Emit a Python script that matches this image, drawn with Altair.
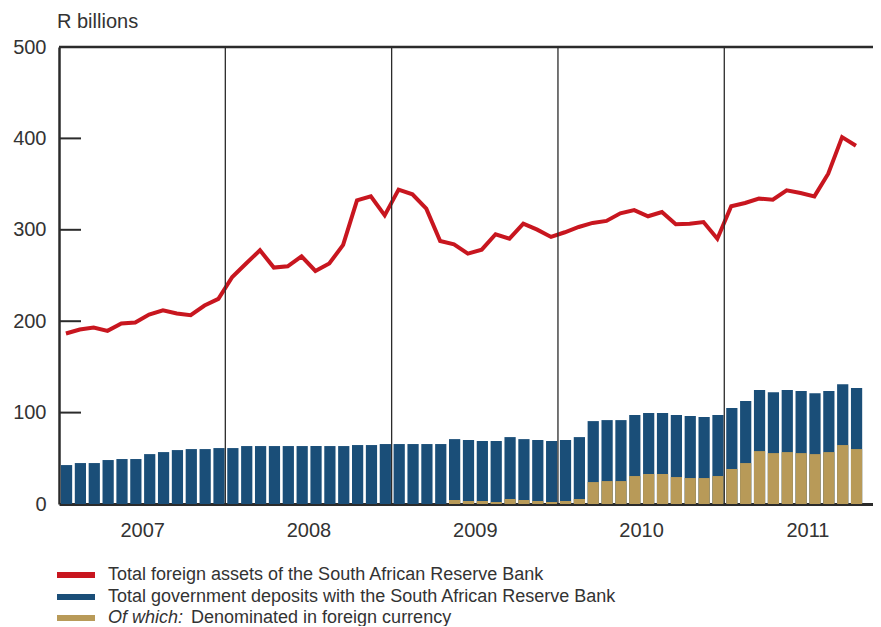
import altair as alt
import pandas as pd

# ---------------- data ----------------
years = ["2007", "2008", "2009", "2010", "2011"]

foreign_assets = [
    186.5, 190.9, 193.1, 189.4, 197.5, 198.6, 207.3, 212.0, 208.4, 206.6, 217.1, 224.4,
    248.4, 263.1, 277.6, 258.7, 260.1, 271.0, 255.0, 263.1, 283.5, 332.2, 336.6, 315.8,
    343.9, 338.8, 323.1, 287.8, 284.2, 274.0, 278.3, 295.1, 290.3, 306.8, 300.2, 292.2,
    297.3, 303.1, 307.5, 309.7, 318.0, 321.6, 314.8, 319.5, 306.0, 306.7, 308.5, 290.3,
    325.7, 329.3, 334.1, 333.0, 343.2, 340.2, 336.6, 361.4, 401.4, 392.0,
]
gov_deposits = [
    42.6, 44.8, 44.8, 48.1, 49.2, 49.2, 54.6, 56.8, 59.0, 60.1, 60.1, 61.2,
    61.2, 63.4, 63.4, 63.4, 63.4, 63.4, 63.4, 63.4, 63.4, 64.5, 64.5, 65.6,
    65.6, 65.6, 65.6, 65.6, 71.0, 70.0, 68.9, 68.9, 73.2, 71.0, 70.0, 68.9,
    70.0, 73.2, 90.7, 91.8, 91.8, 97.3, 99.5, 99.5, 97.3, 96.2, 95.1, 97.3,
    104.9, 112.6, 124.6, 122.4, 124.6, 123.5, 121.3, 123.5, 131.1, 126.8,
]
foreign_currency = [
    0, 0, 0, 0, 0, 0, 0, 0, 0, 0, 0, 0,
    0, 0, 0, 0, 0, 0, 0, 0, 0, 0, 0, 0,
    0, 0, 0, 0, 4.4, 3.3, 3.3, 2.2, 5.5, 4.4, 3.3, 2.2,
    3.3, 5.5, 24.0, 25.1, 25.1, 30.6, 32.8, 32.8, 29.5, 28.4, 28.4, 30.6,
    38.3, 44.8, 57.9, 55.7, 56.8, 55.7, 54.6, 56.8, 64.5, 60.1,
]
y_ticks = [0, 100, 200, 300, 400, 500]
inner_ticks = [100, 200, 300, 400]
year_breaks = [12, 24, 36, 48]
year_centers = [6, 18, 30, 42, 54]

legend_labels = [
    "Total foreign assets of the South African Reserve Bank",
    "Total government deposits with the South African Reserve Bank",
    "Denominated in foreign currency",
]
legend_prefix = "Of which:"

# ---------------- style ----------------
RED = "#c8161f"
BLUE = "#1a4e78"
GOLD = "#b89a58"
DARK = "#2b2b2b"
TXT = "#333333"
FONT = "Liberation Sans"

W = 814
H = 457
MONTH_PX = 13.86
XMAX = W / MONTH_PX

n = len(foreign_assets)
df = pd.DataFrame({
    "idx": list(range(n)),
    "fa": foreign_assets,
    "gov": gov_deposits,
    "fc": foreign_currency,
})
df["x0"] = df["idx"] + 0.14
df["x1"] = df["idx"] + 0.95
df["xc"] = df["idx"] + 0.5

x_scale = alt.Scale(domain=[0, XMAX], nice=False, zero=False)
y_scale = alt.Scale(domain=[0, 500], nice=False)

x_axis = alt.Axis(
    values=year_centers,
    labelExpr="'' + (2007 + (datum.value - 6) / 12)",
    ticks=False, grid=False, title=None,
    domainColor=DARK, domainWidth=3,
    labelFont=FONT, labelFontSize=20, labelColor=TXT, labelPadding=16,
)
y_axis = alt.Axis(
    values=y_ticks, ticks=False, grid=False, title=None,
    domainColor=DARK, domainWidth=2.5,
    labelFont=FONT, labelFontSize=20, labelColor=TXT, labelPadding=13,
)

base = alt.Chart(df)

blue = base.mark_bar(color=BLUE).encode(
    x=alt.X("x0:Q", scale=x_scale, axis=x_axis),
    x2="x1:Q",
    y=alt.Y("gov:Q", scale=y_scale, axis=y_axis),
    y2=alt.datum(0),
)
gold = base.mark_bar(color=GOLD).encode(
    x=alt.X("x0:Q", scale=x_scale),
    x2="x1:Q",
    y=alt.Y("fc:Q", scale=y_scale),
    y2=alt.datum(0),
)
line = base.mark_line(color=RED, strokeWidth=4, strokeJoin="miter").encode(
    x=alt.X("xc:Q", scale=x_scale),
    y=alt.Y("fa:Q", scale=y_scale),
)

seps = alt.Chart(pd.DataFrame({"b": year_breaks})).mark_rule(
    color=DARK, strokeWidth=1.3
).encode(x=alt.X("b:Q", scale=x_scale))

ticks = alt.Chart(pd.DataFrame({"t": inner_ticks})).mark_rule(
    color=DARK, strokeWidth=2
).encode(y=alt.Y("t:Q", scale=y_scale), x=alt.value(0), x2=alt.value(22))

one = pd.DataFrame({"a": [0]})
top = alt.Chart(one).mark_rule(color=DARK, strokeWidth=2.5).encode(
    x=alt.value(0), x2=alt.value(W), y=alt.value(0)
)

title = alt.Chart(pd.DataFrame({"t": ["R billions"]})).mark_text(
    align="left", baseline="middle", font=FONT, fontSize=20, color=TXT
).encode(text="t:N", x=alt.value(-2), y=alt.value(-25))

leg_colors = [RED, BLUE, GOLD]
leg_y = [528, 550, 571]
legend_layers = []
for lab, col, ly in zip(legend_labels, leg_colors, leg_y):
    legend_layers.append(
        alt.Chart(one).mark_rule(color=col, strokeWidth=6).encode(
            x=alt.value(-2), x2=alt.value(36), y=alt.value(ly)
        )
    )
for lab, ly in zip(legend_labels[:2], leg_y[:2]):
    legend_layers.append(
        alt.Chart(pd.DataFrame({"t": [lab]})).mark_text(
            align="left", baseline="middle", font=FONT, fontSize=18, color=TXT
        ).encode(text="t:N", x=alt.value(49), y=alt.value(ly))
    )
legend_layers.append(
    alt.Chart(pd.DataFrame({"t": [legend_prefix]})).mark_text(
        align="left", baseline="middle", font=FONT, fontSize=18, color=TXT, fontStyle="italic"
    ).encode(text="t:N", x=alt.value(49), y=alt.value(leg_y[2]))
)
legend_layers.append(
    alt.Chart(pd.DataFrame({"t": [legend_labels[2]]})).mark_text(
        align="left", baseline="middle", font=FONT, fontSize=18, color=TXT
    ).encode(text="t:N", x=alt.value(132), y=alt.value(leg_y[2]))
)

chart = alt.layer(
    blue, gold, line, seps, ticks, top, title, *legend_layers
).properties(
    width=W, height=H,
    autosize=alt.AutoSizeParams(type="none"),
    padding={"left": 51, "top": 39, "right": 0, "bottom": 122},
).configure_view(stroke=None)

chart.save("out.html", embed_options={"renderer": "svg", "actions": False})
